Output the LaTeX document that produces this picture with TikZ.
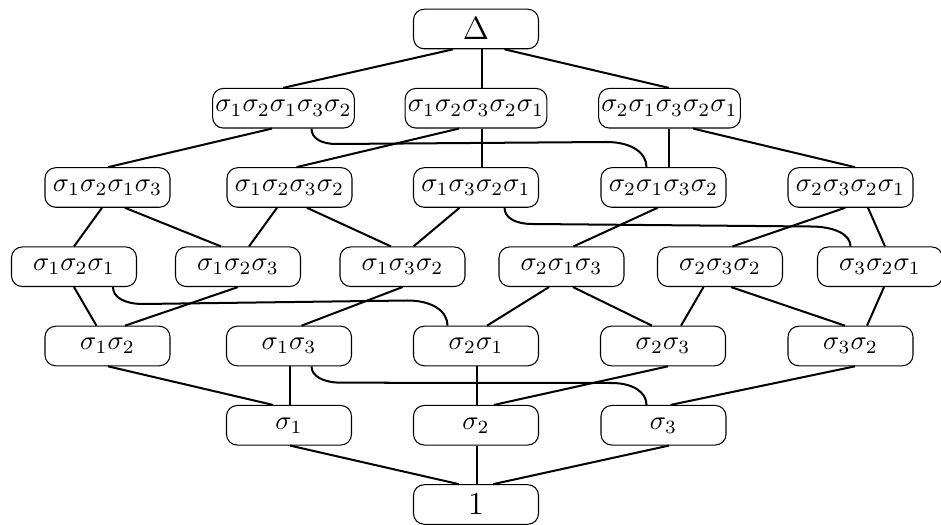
\documentclass[tikz,border=0pt]{standalone}
\usetikzlibrary{calc}
\begin{document}
\begin{tikzpicture}[x=0.374pt,y=-0.374pt,
  box/.style={draw, line width=0.4pt, rounded corners=4pt, minimum width=46.75pt, minimum height=14.8pt, inner xsep=1pt, inner ysep=0pt},
  wide/.style={box, minimum width=51.2pt},
  conn/.style={line width=0.75pt}]
\newcommand\lnk[4]{\draw[conn] ($(#1.south)+(#2,0)$) -- ($(#3.north)+(#4,0)$);}
\useasboundingbox (0,0) rectangle (941,525);
% row 0
\node[box] (D) at (476,29) {\large$\Delta$};
% row 1
\node[wide] (A1) at (283.5,108.25) {$\sigma_1\sigma_2\sigma_1\sigma_3\sigma_2$};
\node[wide] (B1) at (476,108.25) {$\sigma_1\sigma_2\sigma_3\sigma_2\sigma_1$};
\node[wide] (C1) at (669.5,108.25) {$\sigma_2\sigma_1\sigma_3\sigma_2\sigma_1$};
% row 2
\node[box] (a2) at (107.5,187.5) {$\sigma_1\sigma_2\sigma_1\sigma_3$};
\node[box] (b2) at (289.5,187.5) {$\sigma_1\sigma_2\sigma_3\sigma_2$};
\node[box] (c2) at (476,187.5) {$\sigma_1\sigma_3\sigma_2\sigma_1$};
\node[box] (d2) at (663.5,187.5) {$\sigma_2\sigma_1\sigma_3\sigma_2$};
\node[box] (e2) at (850.5,187.5) {$\sigma_2\sigma_3\sigma_2\sigma_1$};
% row 3
\node[box] (a3) at (74,266.75) {$\sigma_1\sigma_2\sigma_1$};
\node[box] (b3) at (238,266.75) {$\sigma_1\sigma_2\sigma_3$};
\node[box] (c3) at (402.5,266.75) {$\sigma_1\sigma_3\sigma_2$};
\node[box] (d3) at (561.5,266.75) {$\sigma_2\sigma_1\sigma_3$};
\node[box] (e3) at (720,266.75) {$\sigma_2\sigma_3\sigma_2$};
\node[box] (f3) at (880,266.75) {$\sigma_3\sigma_2\sigma_1$};
% row 4
\node[box] (a4) at (107.5,346) {$\sigma_1\sigma_2$};
\node[box] (b4) at (289,346) {$\sigma_1\sigma_3$};
\node[box] (c4) at (476,346) {$\sigma_2\sigma_1$};
\node[box] (d4) at (663,346) {$\sigma_2\sigma_3$};
\node[box] (e4) at (850.5,346) {$\sigma_3\sigma_2$};
% row 5
\node[box] (a5) at (289,425.25) {$\sigma_1$};
\node[box] (b5) at (476,425.25) {$\sigma_2$};
\node[box] (c5) at (663.5,425.25) {$\sigma_3$};
% row 6
\node[box] (one) at (476,504.5) {\large$1$};
% straight connectors
\lnk{D}{-23}{A1}{-0.5}
\lnk{D}{6}{B1}{6}
\lnk{D}{28.5}{C1}{-0.5}
\lnk{A1}{-11.5}{a2}{0.5}
\lnk{B1}{-17}{b2}{7}
\lnk{B1}{6}{c2}{6}
\lnk{C1}{-0.5}{d2}{5.5}
\lnk{C1}{23.5}{e2}{4.5}
\lnk{a2}{-5.5}{a3}{0}
\lnk{a2}{17.5}{b3}{-17}
\lnk{b2}{-12.5}{b3}{11}
\lnk{b2}{17.5}{c3}{-11.5}
\lnk{c2}{-16.5}{c3}{11}
\lnk{d2}{-6}{d3}{12}
\lnk{e2}{-5.5}{e3}{12.5}
\lnk{e2}{17.5}{f3}{5}
\lnk{a3}{0}{a4}{-11}
\lnk{b3}{0}{a4}{17.5}
\lnk{c3}{0}{b4}{12.5}
\lnk{d3}{-12.5}{c4}{11}
\lnk{d3}{11.5}{d4}{-11}
\lnk{e3}{-16.5}{d4}{18}
\lnk{e3}{11}{e4}{-5.5}
\lnk{f3}{4}{e4}{16.5}
\lnk{a4}{0.5}{a5}{-16}
\lnk{b4}{1}{a5}{1}
\lnk{c4}{1}{b5}{1}
\lnk{d4}{5}{b5}{18}
\lnk{e4}{4.5}{c5}{7}
\lnk{a5}{1}{one}{-17}
\lnk{b5}{0.5}{one}{0.5}
\lnk{c5}{5.5}{one}{17}
% curved connectors
\draw[conn] ($(A1.south)+(28,0)$) .. controls +(0,10) and +(-15,0) .. (336.5,144) -- (606.5,142) .. controls +(24,0) and +(0,-15) .. ($(d2.north)+(-17,0)$);
\draw[conn] ($(c2.south)+(28.5,0)$) .. controls +(0,10) and +(-17,0) .. (532.5,224) -- (810.5,226.5) .. controls +(24,0) and +(0,-12) .. ($(f3.north)+(-29.5,0)$);
\draw[conn] ($(a3.south)+(39,0)$) .. controls +(0,10.5) and +(-18,0) .. (143,304) -- (407.5,300.5) .. controls +(24,0) and +(0,-15) .. ($(c4.north)+(-28.5,0)$);
\draw[conn] ($(b4.south)+(22.5,0)$) .. controls +(0,10) and +(-18,0) .. (341.5,382.7) -- (611.5,383) .. controls +(21,0) and +(0,-13) .. ($(c5.north)+(-17,0)$);
\end{tikzpicture}
\end{document}
